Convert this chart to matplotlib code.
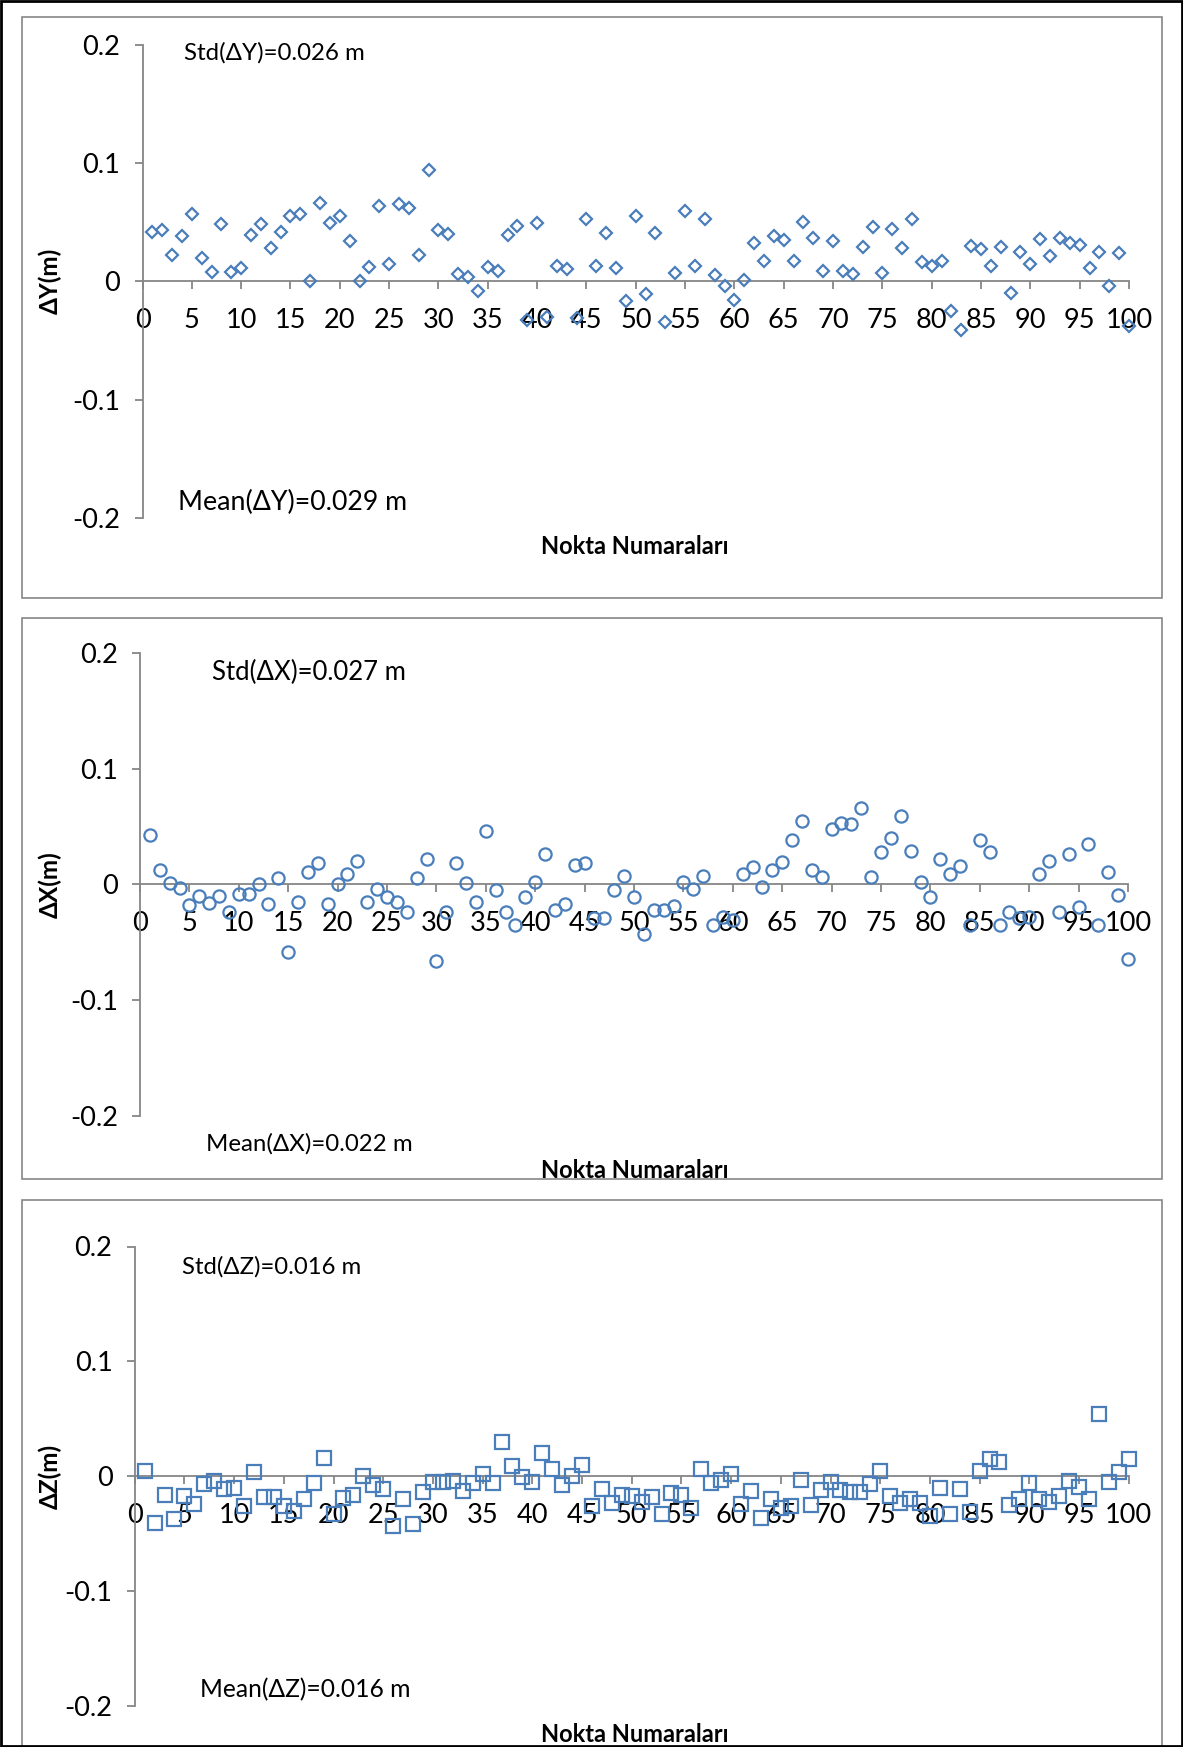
import numpy as np
import matplotlib
matplotlib.use("Agg")
import matplotlib.pyplot as plt
from matplotlib.patches import Rectangle

plt.rcParams['font.family'] = ['Lato', 'DejaVu Sans']

W, H = 1183, 1747

points = np.arange(1, 101)

dy = [0.042, 0.043, 0.022, 0.038, 0.057, 0.020, 0.008, 0.048, 0.008, 0.011,
      0.039, 0.048, 0.028, 0.042, 0.055, 0.057, 0.000, 0.066, 0.049, 0.055,
      0.034, 0.000, 0.012, 0.064, 0.015, 0.065, 0.062, 0.022, 0.094, 0.043,
      0.040, 0.006, 0.004, -0.008, 0.012, 0.009, 0.039, 0.047, -0.033, 0.049,
      -0.030, 0.013, 0.010, -0.031, 0.053, 0.013, 0.041, 0.011, -0.017, 0.055,
      -0.011, 0.041, -0.034, 0.007, 0.059, 0.013, 0.053, 0.005, -0.004, -0.016,
      0.001, 0.032, 0.017, 0.038, 0.035, 0.017, 0.050, 0.037, 0.009, 0.034,
      0.009, 0.006, 0.029, 0.046, 0.007, 0.044, 0.028, 0.053, 0.016, 0.013,
      0.017, -0.025, -0.041, 0.030, 0.027, 0.013, 0.029, -0.010, 0.025, 0.015,
      0.036, 0.021, 0.037, 0.032, 0.031, 0.011, 0.025, -0.004, 0.024, -0.038]

dx = [0.043, 0.012, 0.001, -0.003, -0.018, -0.010, -0.016, -0.010, -0.024, -0.008,
      -0.008, 0.000, -0.017, 0.005, -0.059, -0.015, 0.011, 0.018, -0.017, 0.000,
      0.009, 0.020, -0.015, -0.004, -0.011, -0.015, -0.024, 0.005, 0.022, -0.066,
      -0.024, 0.018, 0.001, -0.015, 0.046, -0.005, -0.024, -0.035, -0.011, 0.002,
      0.026, -0.022, -0.017, 0.017, 0.018, -0.029, -0.029, -0.005, 0.007, -0.011,
      -0.043, -0.022, -0.022, -0.019, 0.002, -0.004, 0.007, -0.035, -0.028, -0.031,
      0.009, 0.015, -0.002, 0.012, 0.019, 0.038, 0.055, 0.012, 0.006, 0.048,
      0.053, 0.052, 0.066, 0.006, 0.028, 0.040, 0.059, 0.029, 0.002, -0.011,
      0.022, 0.009, 0.016, -0.035, 0.038, 0.028, -0.035, -0.024, -0.029, -0.028,
      0.009, 0.020, -0.024, 0.026, -0.020, 0.035, -0.035, 0.011, -0.009, -0.065]

dz = [0.005, -0.041, -0.016, -0.037, -0.017, -0.024, -0.007, -0.004, -0.011, -0.010,
      -0.026, 0.004, -0.018, -0.018, -0.026, -0.030, -0.020, -0.006, 0.016, -0.033,
      -0.019, -0.016, 0.000, -0.008, -0.011, -0.043, -0.020, -0.042, -0.014, -0.005,
      -0.005, -0.004, -0.013, -0.006, 0.002, -0.006, 0.030, 0.009, -0.001, -0.005,
      0.020, 0.006, -0.008, 0.000, 0.010, -0.026, -0.011, -0.023, -0.016, -0.017,
      -0.022, -0.018, -0.033, -0.015, -0.016, -0.028, 0.006, -0.006, -0.003, 0.002,
      -0.024, -0.013, -0.036, -0.020, -0.028, -0.026, -0.003, -0.025, -0.012, -0.005,
      -0.012, -0.014, -0.014, -0.007, 0.005, -0.017, -0.023, -0.020, -0.023, -0.035,
      -0.010, -0.033, -0.011, -0.031, 0.005, 0.015, 0.012, -0.025, -0.020, -0.006,
      -0.020, -0.022, -0.017, -0.004, -0.009, -0.020, 0.054, -0.005, 0.004, 0.015]

y_ticks = [-0.2, -0.1, 0, 0.1, 0.2]
y_tick_labels = ["-0.2", "-0.1", "0", "0.1", "0.2"]
x_ticks = list(range(0, 101, 5))

BLUE = "#4A7EBB"
AXIS_GRAY = "#868686"

fig = plt.figure(figsize=(W / 100, H / 100), dpi=100)


def px_axes(x0, x1, y_top, y_bot):
    return fig.add_axes([x0 / W, 1 - y_bot / H, (x1 - x0) / W, (y_bot - y_top) / H])


def frame(x0, y0, x1, y1, color, lw):
    fig.add_artist(Rectangle((x0 / W, 1 - y1 / H), (x1 - x0) / W, (y1 - y0) / H,
                             transform=fig.transFigure, fill=False,
                             edgecolor=color, linewidth=lw, clip_on=False))


panels = [
    dict(values=dy, marker="D", ms=6.4, ylabel="ΔY(m)",
         std="Std(ΔY)=0.026 m", mean="Mean(ΔY)=0.029 m",
         std_fs=17.3, mean_fs=19.3,
         ax_box=(142.5, 1129, 44.6, 518), box=(22, 17, 1162, 598),
         std_xy=(184, 53), mean_xy=(178, 502), xl_y=546),
    dict(values=dx, marker="o", ms=8.8, ylabel="ΔX(m)",
         std="Std(ΔX)=0.027 m", mean="Mean(ΔX)=0.022 m",
         std_fs=18.5, mean_fs=17.3,
         ax_box=(140, 1128, 653, 1115.5), box=(22, 618, 1162, 1179),
         std_xy=(212, 672), mean_xy=(206, 1144), xl_y=1170),
    dict(values=dz, marker="s", ms=9.4, ylabel="ΔZ(m)",
         std="Std(ΔZ)=0.016 m", mean="Mean(ΔZ)=0.016 m",
         std_fs=17.2, mean_fs=17.7,
         ax_box=(134.7, 1128.7, 1246.5, 1706), box=(22, 1200, 1162, 1760),
         std_xy=(182, 1267), mean_xy=(200, 1690), xl_y=1734),
]

for p in panels:
    bx0, by0, bx1, by1 = p["box"]
    frame(bx0, by0, bx1, by1, AXIS_GRAY, 1.2)

    x0, x1, yt, yb = p["ax_box"]
    ax = px_axes(x0, x1, yt, yb)
    ax.set_facecolor("none")
    ax.plot(points, p["values"], linestyle="none", marker=p["marker"],
            markersize=p["ms"], markerfacecolor="none", markeredgecolor=BLUE,
            markeredgewidth=1.6, clip_on=False, zorder=3)

    ax.set_xlim(0, 100)
    ax.set_ylim(-0.2, 0.2)
    ax.set_xticks(x_ticks)
    ax.set_xticklabels([str(t) for t in x_ticks])
    ax.set_yticks(y_ticks)
    ax.set_yticklabels(y_tick_labels)

    for side in ("top", "right"):
        ax.spines[side].set_visible(False)
    ax.spines["bottom"].set_position(("data", 0))
    for side in ("left", "bottom"):
        ax.spines[side].set_color(AXIS_GRAY)
        ax.spines[side].set_linewidth(1.3)
    ax.tick_params(axis="both", direction="out", length=6, width=1.3,
                   color=AXIS_GRAY, labelsize=19.5, labelcolor="black")
    ax.tick_params(axis="x", pad=13)
    ax.tick_params(axis="y", pad=10)

    fig.text(p["std_xy"][0] / W, 1 - p["std_xy"][1] / H, p["std"],
             fontsize=p["std_fs"], ha="left", va="center")
    fig.text(p["mean_xy"][0] / W, 1 - p["mean_xy"][1] / H, p["mean"],
             fontsize=p["mean_fs"], ha="left", va="center")
    fig.text(635 / W, 1 - p["xl_y"] / H, "Nokta Numaraları",
             fontsize=17, fontweight="bold", ha="center", va="center")
    y_zero = yt + (yb - yt) / 2
    fig.text(50 / W, 1 - y_zero / H, p["ylabel"], rotation=90,
             fontsize=17.5, fontweight="bold", ha="center", va="center")

frame(1, 1, W - 1, H - 1, "black", 2.0)

fig.savefig("out.png", dpi=100)
